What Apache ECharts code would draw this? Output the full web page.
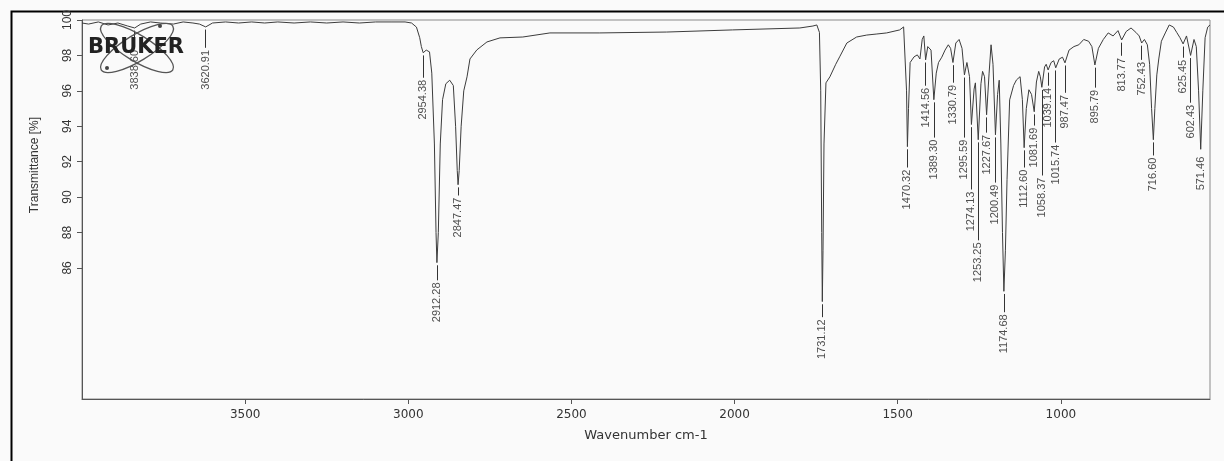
<!DOCTYPE html>
<html><head><meta charset="utf-8">
<script src="https://cdn.jsdelivr.net/npm/echarts@6/dist/echarts.min.js"></script>
<style>html,body{margin:0;padding:0;background:#fafafa}#c{width:1224px;height:461px}</style>
</head><body><div id="c"></div>
<script>
// Spectrum: wavenumber (cm-1) and transmittance (%)
const wavenumbers = [4000,3980,3950,3920,3890,3860,3838.6,3820,3790,3760,3720,3690,3660,3640,3620.91,3600,3560,3520,3480,3440,3400,3350,3300,3250,3200,3150,3100,3050,3010,2990,2975,2970,2965,2960,2954.38,2945,2935,2928,2920,2915,2912.28,2908,2902,2895,2885,2873,2862,2855,2850,2847.47,2844,2838,2830,2820,2811,2790,2759,2719,2649,2566,2413,2208,2006,1800,1760,1748,1740,1736,1733,1731.12,1729,1726,1720,1708,1690,1678,1656,1626,1595,1564,1534,1494,1482,1476,1473,1470.32,1467,1462,1450,1440,1432,1425,1420,1414.56,1408,1398,1389.3,1382,1375,1365,1355,1345,1338,1330.79,1322,1312,1303,1295.59,1288,1280,1274.13,1266,1262,1253.25,1245,1240,1234,1227.67,1220,1214,1208,1200.49,1194,1189,1184,1179,1174.68,1170,1165,1157,1145,1136,1125,1118,1112.6,1106,1098,1090,1081.69,1075,1068,1063,1058.37,1050,1045,1039.14,1030,1022,1015.74,1005,995,987.47,975,960,945,930,915,905,895.79,885,870,855,840,825,813.77,800,785,770,760,752.43,744,735,728,722,716.6,712,706,700,692,680,668,655,645,635,625.45,615,602.43,592,585,578,571.46,565,558,550,543];
const transmittance = [99.83,99.77,99.89,99.72,99.83,99.66,99.55,99.77,99.89,99.83,99.77,99.89,99.83,99.77,99.61,99.83,99.89,99.83,99.89,99.83,99.89,99.83,99.89,99.83,99.89,99.83,99.89,99.89,99.89,99.83,99.6,99.5,99.0,98.5,98.15,98.3,98.2,97.0,93.0,88.0,86.3,88.0,93.0,95.5,96.4,96.6,96.3,94.0,91.5,90.7,91.5,94.0,96.0,96.79,97.8,98.31,98.76,98.99,99.04,99.27,99.27,99.32,99.44,99.55,99.66,99.72,99.3,96.0,88.0,84.1,87.0,93.0,96.45,96.79,97.5,97.92,98.7,99.04,99.15,99.21,99.27,99.44,99.61,99.5,96.0,92.85,95.0,97.6,97.92,98.03,97.8,98.9,99.1,97.75,98.5,98.3,95.5,97.0,97.6,97.9,98.3,98.6,98.4,97.6,98.7,98.9,98.4,96.9,97.6,96.8,94.1,96.1,96.45,93.24,96.4,97.1,96.8,94.65,97.0,98.6,97.5,93.52,95.8,96.6,93.0,88.0,84.68,87.0,91.0,95.49,96.3,96.62,96.8,95.5,92.79,95.0,96.06,95.8,94.82,96.5,97.1,96.8,96.2,97.35,97.5,97.18,97.6,97.7,97.3,97.8,97.9,97.58,98.3,98.5,98.6,98.9,98.8,98.5,97.46,98.4,98.9,99.27,99.1,99.4,98.87,99.35,99.55,99.3,99.1,98.7,98.9,98.6,97.5,95.0,93.24,95.0,96.9,97.8,98.8,99.27,99.72,99.6,99.3,99.0,98.65,99.1,98.0,98.9,98.5,96.0,92.7,96.0,99.0,99.6,99.72];

// Peak annotations
const peakLabels = ['3838.60','3620.91','2954.38','2912.28','2847.47','1731.12','1470.32','1414.56','1389.30','1330.79','1295.59','1274.13','1253.25','1227.67','1200.49','1174.68','1112.60','1081.69','1058.37','1039.14','1015.74','987.47','895.79','813.77','752.43','716.60','625.45','602.43','571.46'];
const peakWavenumbers = [3838.6,3620.91,2954.38,2912.28,2847.47,1731.12,1470.32,1414.56,1389.3,1330.79,1295.59,1274.13,1253.25,1227.67,1200.49,1174.68,1112.6,1081.69,1058.37,1039.14,1015.74,987.47,895.79,813.77,752.43,716.6,625.45,602.43,571.46];
// transmittance level where each label's text begins (label stagger)
const labelLevels = [98.31,98.31,96.62,85.18,89.97,83.10,91.55,96.17,93.24,96.34,93.24,90.31,87.44,93.52,90.70,83.38,91.55,93.92,91.10,96.17,92.96,95.77,96.06,97.86,97.63,92.23,97.75,95.21,92.28];

const xTicks = [3500,3000,2500,2000,1500,1000];
const yTicks = [86,88,90,92,94,96,98,100];

const spectrum = wavenumbers.map((w,i)=>[w, transmittance[i]]);
function depthAt(w){
  const i = wavenumbers.findIndex(v=>Math.abs(v-w)<0.005);
  return i>=0 ? transmittance[i] : 99.8;
}
const labelPoints = peakWavenumbers.map((w,i)=>({name: peakLabels[i], value:[w, labelLevels[i]]}));
const leaders = peakWavenumbers.map((w,i)=>{
  const top = depthAt(w) - 0.15, bot = labelLevels[i] + 0.12;
  return [{coord:[w, top]}, {coord:[w, bot]}];
}).filter(p=>p[0].coord[1] - p[1].coord[1] > 0.3);

const chart = echarts.init(document.getElementById('c'), null, {renderer:'canvas'});
chart.setOption({
  backgroundColor:'#fafafa',
  animation:false,
  grid:{left:82,right:14,top:20,bottom:62,show:true,borderColor:'#8a8a8a',borderWidth:1,backgroundColor:'transparent'},
  xAxis:{
    type:'value', inverse:true, min:543, max:4000,
    name:'Wavenumber cm-1', nameLocation:'middle', nameGap:30,
    nameTextStyle:{fontFamily:'DejaVu Sans',fontSize:13,color:'#333'},
    axisLine:{show:true,lineStyle:{color:'#555',width:1}},
    axisTick:{show:true,length:5,inside:false,customValues:xTicks,lineStyle:{color:'#555'}},
    axisLabel:{customValues:xTicks,formatter:v=>String(v),margin:10,fontFamily:'DejaVu Sans',fontSize:12,color:'#333'},
    splitLine:{show:false}
  },
  yAxis:{
    type:'value', min:78.6, max:100,
    axisLine:{show:true,lineStyle:{color:'#555',width:1}},
    axisTick:{show:true,length:5,customValues:yTicks,lineStyle:{color:'#555'}},
    axisLabel:{customValues:yTicks,formatter:v=>String(v),rotate:90,margin:8,fontFamily:'Liberation Sans Narrow, Liberation Sans',fontSize:12,color:'#333'},
    splitLine:{show:false}
  },
  series:[
    {type:'line', data:spectrum, showSymbol:false, symbol:'none', silent:true,
     lineStyle:{color:'#3c3c3c',width:1}, z:3},
    {type:'scatter', data:labelPoints, symbolSize:0, silent:true, z:4,
     label:{show:true, formatter:'{b}', position:[0,0], align:'right', verticalAlign:'middle', rotate:90,
            fontFamily:'Liberation Sans Narrow, Liberation Sans', fontSize:11, color:'#222'},
     markLine:{silent:true, symbol:['none','none'], label:{show:false}, animation:false,
       lineStyle:{color:'#333',width:1,type:'solid'}, data:leaders}}
  ],
  graphic:[
    {type:'rect', left:9, top:9, shape:{x:0,y:0,width:1300,height:500}, style:{fill:'none',stroke:'#000',lineWidth:2}, z:0, silent:true},
    {type:'text', x:35, y:165, rotation:Math.PI/2, style:{text:'Transmittance [%]', font:'12px "Liberation Sans Narrow", "Liberation Sans"', fill:'#333', align:'center', verticalAlign:'middle'}, z:10},
    {type:'ellipse', x:137, y:48, rotation:0.55, shape:{cx:0,cy:0,rx:42,ry:13}, style:{fill:'none',stroke:'#555',lineWidth:1.3}, z:9},
    {type:'ellipse', x:137, y:48, rotation:-0.55, shape:{cx:0,cy:0,rx:42,ry:13}, style:{fill:'none',stroke:'#555',lineWidth:1.3}, z:9},
    {type:'circle', shape:{cx:107,cy:68,r:2}, style:{fill:'#444'}, z:9},
    {type:'circle', shape:{cx:160,cy:26,r:2}, style:{fill:'#444'}, z:9},
    {type:'text', x:88, y:48, style:{text:'BRUKER', font:'bold 21px "DejaVu Sans"', fill:'#222', align:'left', verticalAlign:'middle'}, z:11}
  ]
});
</script></body></html>
